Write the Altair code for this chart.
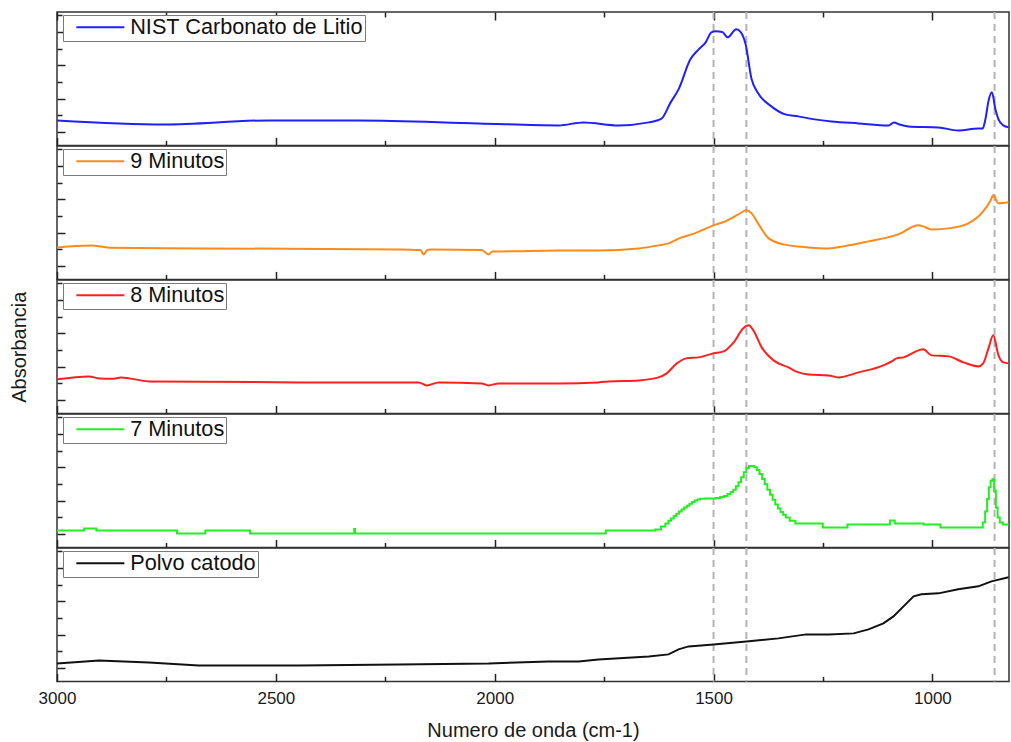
import altair as alt
import pandas as pd

# Wavenumber (cm-1) / absorbance readings for each sample (arbitrary offset units per panel)
nist_wn = [3000, 2756, 2516, 2311, 2037, 1854, 1797, 1717, 1648, 1619, 1598, 1580, 1553, 1534, 1518,
           1505, 1495, 1480, 1468, 1448, 1438, 1427, 1413, 1400, 1368, 1336, 1306, 1283, 1231, 1169,
           1100, 1088, 1075, 1055, 986, 941, 895, 885, 879, 872, 864, 856, 849, 838, 826]
nist_ab = [0.70, 0.46, 0.70, 0.70, 0.52, 0.40, 0.58, 0.40, 0.58, 0.80, 1.78, 2.56, 4.36, 4.96, 5.38,
           5.98, 6.04, 6.00, 5.68, 6.16, 6.00, 5.30, 3.16, 2.40, 1.54, 1.06, 0.94, 0.82, 0.64, 0.52,
           0.40, 0.58, 0.45, 0.34, 0.28, 0.10, 0.22, 0.22, 0.76, 1.84, 2.38, 1.36, 0.76, 0.40, 0.28]

min9_wn = [3000, 2922, 2880, 2676, 2219, 2170, 2162, 2155, 2146, 2030, 2014, 2005, 1991, 1854, 1763,
           1671, 1626, 1603, 1573, 1550, 1500, 1473, 1443, 1425, 1413, 1397, 1374, 1340, 1283, 1237,
           1203, 1146, 1078, 1032, 1021, 1002, 963, 918, 884, 868, 861, 849, 826]
min9_ab = [1.12, 1.24, 1.10, 1.06, 1.00, 0.96, 0.70, 0.94, 1.00, 0.96, 0.70, 0.88, 0.88, 0.94, 0.94,
           1.06, 1.24, 1.36, 1.72, 1.90, 2.44, 2.68, 3.10, 3.34, 3.16, 2.50, 1.66, 1.30, 1.12, 1.06,
           1.18, 1.48, 1.90, 2.44, 2.38, 2.20, 2.26, 2.56, 3.28, 3.88, 4.24, 3.76, 3.82]

min8_wn = [3000, 2927, 2904, 2870, 2854, 2790, 2447, 2174, 2155, 2128, 2030, 2014, 1991, 1854, 1763,
           1740, 1671, 1626, 1607, 1584, 1562, 1534, 1500, 1477, 1454, 1432, 1420, 1409, 1390, 1363,
           1329, 1306, 1283, 1237, 1215, 1169, 1112, 1089, 1082, 1066, 1032, 1021, 1002, 963, 929,
           895, 884, 872, 861, 849, 838, 826]
min8_ab = [1.24, 1.42, 1.30, 1.28, 1.36, 1.12, 1.06, 1.06, 0.88, 1.06, 1.00, 0.88, 1.00, 1.00, 1.06,
           1.12, 1.18, 1.36, 1.60, 2.20, 2.50, 2.56, 2.80, 2.92, 3.46, 4.30, 4.48, 4.18, 3.16, 2.38,
           1.96, 1.66, 1.54, 1.48, 1.36, 1.66, 2.08, 2.38, 2.50, 2.56, 2.98, 3.04, 2.68, 2.62, 2.26,
           2.02, 2.20, 3.10, 3.88, 2.68, 2.26, 2.20]

min7_wn = [3000, 2940, 2936, 2912, 2908, 2728, 2724, 2663, 2659, 2561, 2557, 2322, 2320, 2318, 2050,
           1748, 1744, 1640, 1626, 1614, 1606, 1600, 1594, 1588, 1582, 1576, 1570, 1564, 1558, 1552,
           1546, 1540, 1534, 1528, 1510, 1500, 1490, 1480, 1472, 1464, 1458, 1452, 1446, 1440, 1434,
           1428, 1422, 1416, 1410, 1404, 1398, 1392, 1386, 1380, 1374, 1368, 1362, 1356, 1350, 1344,
           1338, 1332, 1320, 1306, 1270, 1231, 1196, 1192, 1100, 1094, 1078, 1040, 1000, 963, 888,
           882, 877, 873, 869, 865, 861, 857, 853, 849, 843, 835, 826]
min7_ab = [0.22, 0.22, 0.34, 0.34, 0.22, 0.22, 0.04, 0.04, 0.22, 0.22, 0.04, 0.04, 0.30, 0.04, 0.04,
           0.04, 0.22, 0.22, 0.28, 0.46, 0.64, 0.80, 0.94, 1.08, 1.22, 1.36, 1.48, 1.60, 1.70, 1.82,
           1.92, 2.02, 2.08, 2.12, 2.14, 2.14, 2.16, 2.22, 2.28, 2.40, 2.52, 2.66, 2.86, 3.10, 3.40,
           3.70, 3.96, 4.08, 4.08, 4.00, 3.84, 3.60, 3.30, 2.98, 2.66, 2.36, 2.06, 1.78, 1.54, 1.32,
           1.16, 1.00, 0.80, 0.64, 0.64, 0.40, 0.40, 0.58, 0.58, 0.82, 0.64, 0.64, 0.58, 0.40, 0.40,
           0.70, 1.36, 2.10, 2.80, 3.20, 3.28, 2.60, 1.60, 1.00, 0.70, 0.58, 0.58]

polvo_wn = [3000, 2904, 2790, 2676, 2447, 2219, 2014, 1877, 1808, 1763, 1648, 1603, 1580, 1557, 1500,
            1425, 1352, 1288, 1237, 1180, 1146, 1112, 1089, 1066, 1043, 1025, 986, 941, 895, 865, 826]
polvo_ab = [0.28, 0.46, 0.34, 0.16, 0.16, 0.22, 0.28, 0.40, 0.40, 0.52, 0.70, 0.82, 1.12, 1.30, 1.42,
            1.60, 1.78, 2.02, 2.02, 2.08, 2.32, 2.68, 3.10, 3.70, 4.30, 4.42, 4.48, 4.72, 4.90, 5.20, 5.44]

series_names = ["NIST Carbonato de Litio", "9 Minutos", "8 Minutos", "7 Minutos", "Polvo catodo"]
series_colors = ["#1f1fff", "#ff8a1a", "#ff1f1f", "#22ee22", "#111111"]
series_wn = [nist_wn, min9_wn, min8_wn, min7_wn, polvo_wn]
series_ab = [nist_ab, min9_ab, min8_ab, min7_ab, polvo_ab]
series_interp = ["monotone", "monotone", "monotone", "step", "linear"]

# Reference band positions (cm-1) marked with dashed lines
band_positions = [1500, 1425, 858]

x_major = [1000, 1500, 2000, 2500, 3000]
x_minor = [1250, 1750, 2250, 2750]
y_major = [0, 2, 4, 6]
y_minor = [1, 3, 5, 7]

PANEL_W = 952
PANEL_H = 133.4

bands = pd.DataFrame({"wn": band_positions})


def panel(idx):
    name = series_names[idx]
    df = pd.DataFrame({"wn": series_wn[idx], "ab": series_ab[idx], "serie": name})
    xs = alt.Scale(domain=[825, 3000], reverse=True, nice=False, zero=False)
    ys = alt.Scale(domain=[-0.8, 7.2], nice=False, zero=False)
    bottom = idx == len(series_names) - 1
    middle = idx == 2

    xkw = dict(orient="bottom", values=x_major, tickSize=alt.ExprRef(expr="-8"), labels=bottom,
               labelPadding=17, titlePadding=14, labelFlush=False, format="d")
    xkw["title"] = "Numero de onda (cm-1)" if bottom else None
    ykw = dict(orient="left", values=y_major, tickSize=alt.ExprRef(expr="-8"), labels=False,
               titlePadding=27)
    ykw["title"] = "Absorbancia" if middle else None

    rules = alt.Chart(bands).mark_rule(color="#b4b4b4", strokeDash=[7, 5], strokeWidth=2).encode(
        x=alt.X("wn:Q", scale=xs, axis=alt.Axis(orient="bottom", values=x_minor,
                                                tickSize=alt.ExprRef(expr="-5"), labels=False, title=None))
    )
    line = alt.Chart(df).mark_line(strokeWidth=2, interpolate=series_interp[idx], clip=True).encode(
        x=alt.X("wn:Q", scale=xs, axis=alt.Axis(**xkw)),
        y=alt.Y("ab:Q", scale=ys, axis=alt.Axis(**ykw)),
        color=alt.Color("serie:N", scale=alt.Scale(domain=[name], range=[series_colors[idx]]),
                        legend=alt.Legend(title=None)),
    )
    minor_y = alt.Chart(df).mark_line(opacity=0).encode(
        x=alt.X("wn:Q", scale=xs, axis=None),
        y=alt.Y("ab:Q", scale=ys, axis=alt.Axis(orient="left", values=y_minor,
                                                tickSize=alt.ExprRef(expr="-5"), labels=False, title=None)),
    )
    layers = [rules, line, minor_y]
    if idx == 0:
        for vals, size in ((x_major, "-8"), (x_minor, "-5")):
            layers.append(alt.Chart(df).mark_line(opacity=0).encode(
                x=alt.X("wn:Q", scale=xs, axis=alt.Axis(orient="top", values=vals,
                                                        tickSize=alt.ExprRef(expr=size), labels=False, title=None)),
                y=alt.Y("ab:Q", scale=ys, axis=None),
            ))
    return alt.layer(*layers).resolve_axis(x="independent", y="independent").properties(
        width=PANEL_W, height=PANEL_H)


chart = alt.vconcat(*[panel(i) for i in range(len(series_names))], spacing=0, bounds="flush").resolve_scale(
    color="independent"
).properties(
    padding={"left": 8, "top": 10, "right": 0, "bottom": 0}
).configure_view(
    stroke="#333333", strokeWidth=1.5
).configure_axis(
    labelFont="Liberation Sans", titleFont="Liberation Sans", labelFontSize=17, titleFontSize=20,
    titleFontWeight="normal", labelColor="#1a1a1a", titleColor="#1a1a1a", tickColor="#222222",
    tickWidth=1.5, domain=False, grid=False
).configure_legend(
    orient="none", legendX=6, legendY=3, padding=1.5, strokeColor="#7a7a7a", fillColor="white",
    labelFont="Liberation Sans", labelFontSize=21.7, labelColor="#111111", labelLimit=500,
    symbolType="M-2.667,0H2.667", symbolSize=324, symbolStrokeWidth=2, symbolOffset=25,
    labelOffset=19, cornerRadius=0
)

chart.save("out.html", embed_options={"renderer": "svg", "actions": False})
